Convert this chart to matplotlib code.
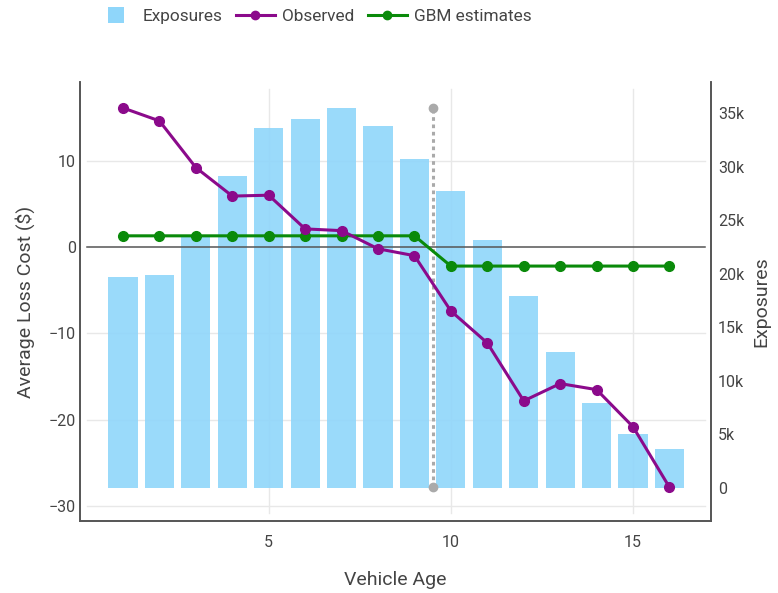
import matplotlib
matplotlib.use("Agg")
import matplotlib.pyplot as plt
from matplotlib.lines import Line2D
from matplotlib.ticker import FuncFormatter

plt.rcParams['font.family'] = ['Roboto', 'DejaVu Sans']

vehicle_age = list(range(1, 17))
exposures = [19700, 19900, 23450, 29100, 33600, 34400, 35500, 33800,
             30700, 27700, 23100, 17900, 12700, 7900, 5000, 3600]
observed = [16.1, 14.6, 9.2, 5.9, 6.0, 2.1, 1.9, -0.2,
            -1.0, -7.4, -11.1, -17.8, -15.8, -16.5, -20.8, -27.8]
gbm_estimates = [1.3] * 9 + [-2.2] * 7
split_age = 9.5

bar_color = '#8fd6fa'
obs_color = '#8b0a8b'
gbm_color = '#0a8a0a'
text_color = '#444444'
grid_color = '#e8e8e8'

fig = plt.figure(figsize=(7.78, 5.93), dpi=100)
ax = fig.add_axes([80 / 778, 1 - 521 / 593, 631 / 778, 439 / 593])
ax2 = ax.twinx()

# exposure bars on the secondary axis, drawn underneath the lines
ax2.bar(vehicle_age, exposures, width=0.8, color=bar_color, alpha=0.9, zorder=1)
ax2.set_ylim(-3100, 37900)
ax2.set_yticks(range(0, 35001, 5000))
ax2.yaxis.set_major_formatter(FuncFormatter(lambda v, p: '0' if v == 0 else f'{int(v / 1000)}k'))

ax.set_zorder(ax2.get_zorder() + 1)
ax.patch.set_visible(False)

ax.set_xlim(-0.18, 17.14)
ax.set_ylim(-31.7, 19.1)
ax.set_xticks([5, 10, 15])
ax.set_yticks([-30, -20, -10, 0, 10])
ax.yaxis.set_major_formatter(FuncFormatter(lambda v, p: f'{int(v)}'.replace('-', '\u2212')))

# grid lines, slightly inset from the frame, behind the bars
gx0, gx1 = 7 / 631, 1 - 6 / 631
gy0, gy1 = 8 / 439, 1 - 7 / 439
for v in [-30, -20, -10, 10]:
    y2 = ax2.get_ylim()[0] + (v - ax.get_ylim()[0]) / (ax.get_ylim()[1] - ax.get_ylim()[0]) \
        * (ax2.get_ylim()[1] - ax2.get_ylim()[0])
    ax2.axhline(y2, xmin=gx0, xmax=gx1, color=grid_color, lw=1, zorder=0)
for v in [5, 10, 15]:
    ax2.axvline(v, ymin=gy0, ymax=gy1, color=grid_color, lw=1, zorder=0)

ax.axhline(0, xmin=gx0, xmax=gx1, color='#555555', lw=1.1, zorder=2)

# split marker spanning the observed range
ax.plot([split_age, split_age], [min(observed), max(observed)], color='#aaaaaa',
        lw=2.2, ls=(0, (1.2, 1.2)), marker='o', ms=6, zorder=3)

ax.plot(vehicle_age, observed, color=obs_color, lw=2.2, marker='o', ms=7, zorder=5)
ax.plot(vehicle_age, gbm_estimates, color=gbm_color, lw=2.2, marker='o', ms=7, zorder=4)

for a in (ax, ax2):
    a.spines['top'].set_visible(False)
    for s in ('left', 'right', 'bottom'):
        a.spines[s].set_color('#555555')
        a.spines[s].set_linewidth(1.2)
    a.tick_params(length=0, labelsize=11.5, colors=text_color)

ax.tick_params(axis='y', pad=3)
ax.tick_params(axis='x', pad=10)
ax2.tick_params(axis='y', pad=5)

ax.set_xlabel('Vehicle Age', fontsize=14, color=text_color, labelpad=15)
ax.set_ylabel('Average Loss Cost ($)', fontsize=14, color=text_color, labelpad=10)
ax2.set_ylabel('Exposures', fontsize=14, color=text_color, labelpad=6)

handles = [
    Line2D([0], [0], color=bar_color, ls='none', marker='s', ms=12, mew=0),
    Line2D([0], [0], color=obs_color, lw=2.2, marker='o', ms=6),
    Line2D([0], [0], color=gbm_color, lw=2.2, marker='o', ms=6),
]
fig.legend(handles, ['Exposures', 'Observed', 'GBM estimates'], ncol=3,
           loc='center left', bbox_to_anchor=(96 / 778, 1 - 16 / 593), frameon=False,
           fontsize=12.4, handlelength=2.3, columnspacing=0.75, handletextpad=0.42,
           borderpad=0, borderaxespad=0, labelcolor=text_color)

fig.savefig('out.png', dpi=100)
